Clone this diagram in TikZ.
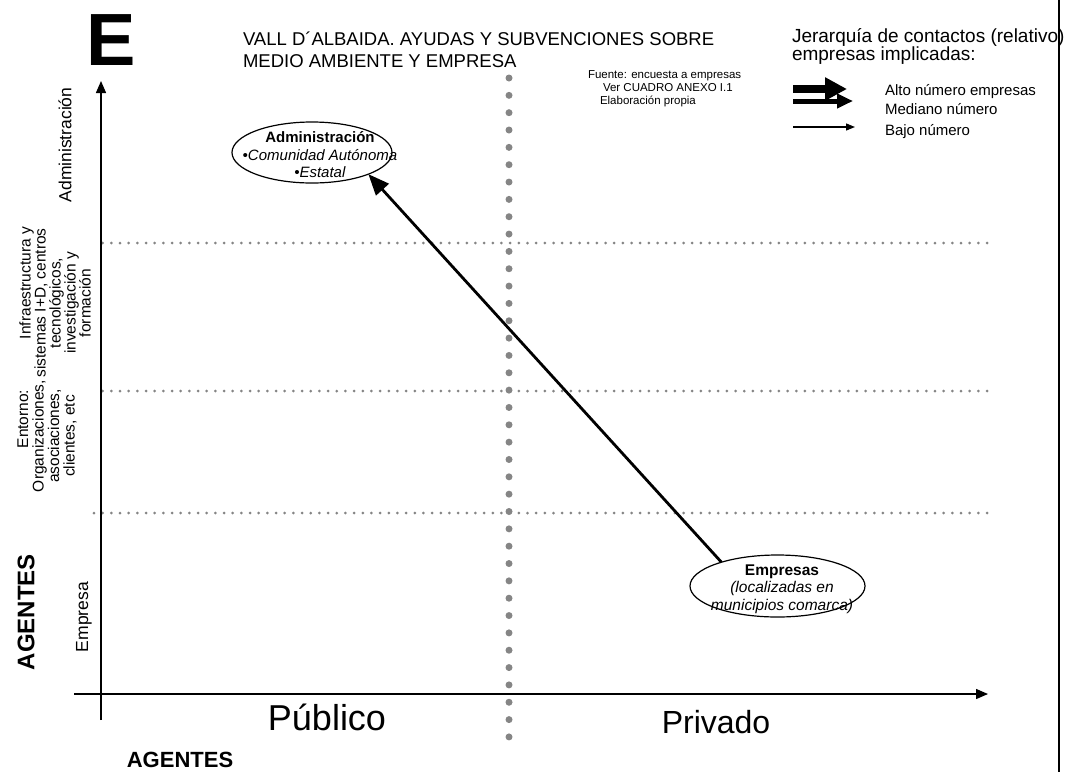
\documentclass[tikz,border=0pt]{standalone}
\usepackage{fontspec}
\setmainfont{Liberation Sans}
\usetikzlibrary{arrows.meta,shapes.geometric}
\newcommand{\fsz}[2]{\fontsize{#1}{#2}\selectfont}
\begin{document}
\begin{tikzpicture}[x=1pt,y=-1pt,
  txt/.style={inner sep=0pt, outer sep=0pt},
  axisline/.style={line width=1.4pt, -{Triangle[length=12pt,width=10pt]}},
  hdots/.style={draw=black!48, line width=3pt, line cap=round, dash pattern=on 0pt off 8.67pt},
  vdots/.style={draw=black!48, line width=7pt, line cap=round, dash pattern=on 0pt off 17.34pt},
  oval/.style={ellipse, draw, line width=1.2pt, inner sep=0pt, outer sep=0pt},
  ylab/.style={txt, rotate=90, align=center},
  legtxt/.style={txt, anchor=base west, font=\fsz{15}{18}}]
\useasboundingbox (0,0) rectangle (1065,772);

% right border
\coordinate (bt) at (1059,0);
\coordinate (bb) at (1059,772);
\draw[line width=2.4pt] (bt) -- (bb);

% big letter
\node[txt, anchor=base west, font=\fsz{74}{80}\bfseries] (bigE) at (86,65) {E};

% title
\node[txt, anchor=base west, font=\fsz{18.5}{22}] (t1) at (243,45) {VALL D´ALBAIDA. AYUDAS Y SUBVENCIONES SOBRE};
\node[txt, anchor=base west, font=\fsz{18.5}{22}] (t2) at (243,67) {MEDIO AMBIENTE Y EMPRESA};

% source
\node[txt, anchor=base west, font=\fsz{11.5}{12}] (f1) at (588,78) {Fuente: encuesta a empresas};
\node[txt, anchor=base west, font=\fsz{11.5}{12}] (f2) at (603,91) {Ver CUADRO ANEXO I.1};
\node[txt, anchor=base west, font=\fsz{11.5}{12}] (f3) at (600,104) {Elaboración propia};

% legend
\node[txt, anchor=base west, font=\fsz{19}{22}] (l1) at (792,42) {Jerarquía de contactos (relativo)};
\node[txt, anchor=base west, font=\fsz{19}{22}] (l2) at (792,60) {empresas implicadas:};
\coordinate (a1s) at (793,89);  \coordinate (a1e) at (847,89);
\coordinate (a2s) at (793,101); \coordinate (a2e) at (853,101);
\coordinate (a3s) at (793,127); \coordinate (a3e) at (855,127);
\draw[line width=8pt, -{Triangle[length=22pt,width=22pt]}] (a1s) -- (a1e);
\draw[line width=5pt, -{Triangle[length=16pt,width=14pt]}] (a2s) -- (a2e);
\draw[line width=1.3pt, -{Triangle[length=9pt,width=7pt]}] (a3s) -- (a3e);
\node[legtxt] (g1) at (885,95) {Alto número empresas};
\node[legtxt] (g2) at (885,114) {Mediano número};
\node[legtxt] (g3) at (885,135) {Bajo número};

% grid dotted lines
\coordinate (h1a) at (987,243); \coordinate (h1b) at (102,243);
\coordinate (h2a) at (987,391); \coordinate (h2b) at (102,391);
\coordinate (h3a) at (987,513); \coordinate (h3b) at (92,513);
\draw[hdots] (h1a) -- (h1b);
\draw[hdots] (h2a) -- (h2b);
\draw[hdots] (h3a) -- (h3b);
\coordinate (vt) at (509,78); \coordinate (vb) at (509,738);
\draw[vdots] (vt) -- (vb);

% axes
\coordinate (ya) at (101,720); \coordinate (yb) at (101,81);
\coordinate (xa) at (74,694);  \coordinate (xb) at (988,694);
\draw[axisline] (ya) -- (yb);
\draw[axisline] (xa) -- (xb);

% axis labels
\node[ylab, font=\fsz{17.5}{19}] (yadm) at (65,145) {Administración};
\node[ylab, font=\fsz{15.5}{15}] (yinf) at (55,303) {\hspace*{40pt}Infraestructura y\\sistemas I+D, centros\\tecnológicos,\\investigación y\\formación};
\node[ylab, font=\fsz{15.5}{15.5}] (yent) at (47,436) {\hspace*{34pt}Entorno:\\Organizaciones,\\asociaciones,\\clientes, etc};
\node[ylab, font=\fsz{17.5}{19}] (yemp) at (84,617) {Empresa};
\node[ylab, font=\fsz{24}{26}\bfseries] (yag) at (26,612) {AGENTES};
\node[txt, font=\fsz{22}{26}\bfseries] (xag) at (180,760) {AGENTES};
\node[txt, font=\fsz{36}{38}] (xpub) at (327,717) {Público};
\node[txt, font=\fsz{32}{38}] (xpri) at (716,722) {Privado};

% ellipses
\node[oval, minimum width=160pt, minimum height=61pt] (adm) at (312,152.5) {};
\node[txt, align=center, font=\fsz{15}{17.5}] (admtxt) at (320,155)
  {\textbf{Administración}\\\textit{•Comunidad Autónoma}\\\textit{•Estatal}};
\node[oval, minimum width=175pt, minimum height=62pt] (emp) at (777.5,586) {};
\node[txt, align=center, font=\fsz{15.5}{17.5}] (emptxt) at (782,589)
  {\textbf{Empresas}\\\textit{(localizadas en}\\\textit{municipios comarca)}};

% connector
\draw[line width=2.8pt, -{Triangle[length=21pt,width=17pt]}] (emp.157) -- (adm.339);
\end{tikzpicture}
\end{document}
